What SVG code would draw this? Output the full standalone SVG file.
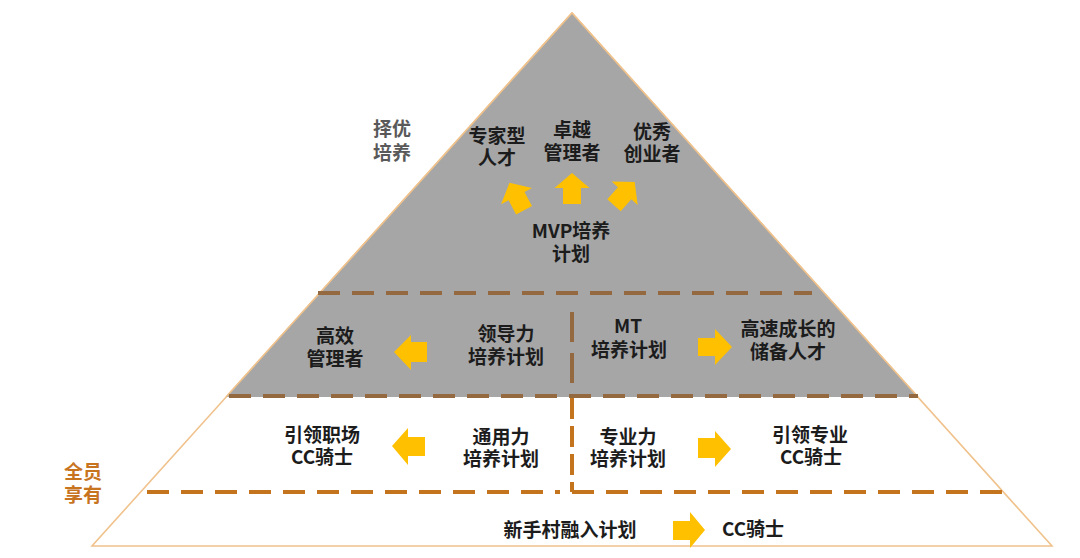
<svg xmlns="http://www.w3.org/2000/svg" width="1080" height="558" viewBox="0 0 1080 558">
<defs>
<style>
.t{font-family:"Noto Sans CJK SC","Noto Sans",sans-serif;font-weight:bold;font-size:19px;fill:#1c1c1c;text-anchor:middle}
.tg{fill:#595959}
.to{fill:#c8741f}
.arr{fill:#ffc000}
.dg{stroke:#94693f;stroke-width:4;fill:none}
.dw{stroke:#c5741e;stroke-width:4;fill:none}
</style>
<polygon id="upArrow" points="0,-16 17.5,-1 9,-1 9,15 -9,15 -9,-1 -17.5,-1"/>
</defs>
<rect width="1080" height="558" fill="#ffffff"/>
<g id="pyramid">
<polygon points="572,13 92,546 1052,546" fill="#ffffff" stroke="#f0c28c" stroke-width="1.6"/>
<polygon points="572,13 226,397 918,397" fill="#a6a6a6"/>
<polyline points="226,397 572,13 918,397" fill="none" stroke="#f0c28c" stroke-width="1.6"/>
</g>
<g id="dividers">
<line class="dg" x1="318" y1="293" x2="812" y2="293" stroke-dasharray="22 12"/>
<line class="dg" x1="572" y1="312" x2="572" y2="393" stroke-dasharray="30 11"/>
<line class="dg" x1="229" y1="396" x2="918" y2="396" stroke-dasharray="22 12"/>
<line class="dw" x1="572" y1="398" x2="572" y2="492" stroke-dasharray="21 7"/>
<line class="dw" x1="147" y1="492" x2="560" y2="492" stroke-dasharray="22 12"/>
<line class="dw" x1="572" y1="492" x2="1003" y2="492" stroke-dasharray="22 12"/>
</g>
<g id="connectors">
<use href="#upArrow" class="arr" transform="translate(517,197) rotate(-28)"/>
<use href="#upArrow" class="arr" transform="translate(572,189)"/>
<use href="#upArrow" class="arr" transform="translate(624,194) rotate(42)"/>
<polygon class="arr" points="394,352 411,335 411,342 427,342 427,362 411,362 411,370"/>
<polygon class="arr" points="698,338 715,338 715,329 732,347 715,365 715,356 698,356"/>
<polygon class="arr" points="392,446 408,428 408,437 425,437 425,456 408,456 408,465"/>
<polygon class="arr" points="698,438 715,438 715,431 731,449 715,467 715,458 698,458"/>
<polygon class="arr" points="673,521 690,521 690,512 705,530 690,548 690,540 673,540"/>
</g>
<g id="label-zeyou"><text class="t tg" x="392" y="136">择优</text><text class="t tg" x="392" y="160">培养</text></g>
<g id="node-expert"><text class="t" x="497" y="143">专家型</text><text class="t" x="497" y="165">人才</text></g>
<g id="node-manager"><text class="t" x="572" y="137">卓越</text><text class="t" x="572" y="160">管理者</text></g>
<g id="node-founder"><text class="t" x="652" y="139">优秀</text><text class="t" x="652" y="161">创业者</text></g>
<g id="node-mvp"><text class="t" x="571" y="238">MVP培养</text><text class="t" x="571" y="261">计划</text></g>
<g id="node-efficient"><text class="t" x="335" y="343">高效</text><text class="t" x="335" y="366">管理者</text></g>
<g id="node-leadership"><text class="t" x="506" y="341">领导力</text><text class="t" x="506" y="364">培养计划</text></g>
<g id="node-mt"><text class="t" x="628" y="333">MT</text><text class="t" x="629" y="357">培养计划</text></g>
<g id="node-reserve"><text class="t" x="788" y="336">高速成长的</text><text class="t" x="788" y="359">储备人才</text></g>
<g id="node-lead-work"><text class="t" x="322" y="442">引领职场</text><text class="t" x="322" y="464">CC骑士</text></g>
<g id="node-general"><text class="t" x="501" y="444">通用力</text><text class="t" x="501" y="466">培养计划</text></g>
<g id="node-pro"><text class="t" x="628" y="444">专业力</text><text class="t" x="628" y="466">培养计划</text></g>
<g id="node-lead-pro"><text class="t" x="810" y="442">引领专业</text><text class="t" x="811" y="464">CC骑士</text></g>
<g id="label-all"><text class="t to" x="83" y="479">全员</text><text class="t to" x="83" y="502">享有</text></g>
<g id="node-newbie"><text class="t" x="570" y="537">新手村融入计划</text></g>
<g id="node-cc"><text class="t" x="753" y="536">CC骑士</text></g>
</svg>
